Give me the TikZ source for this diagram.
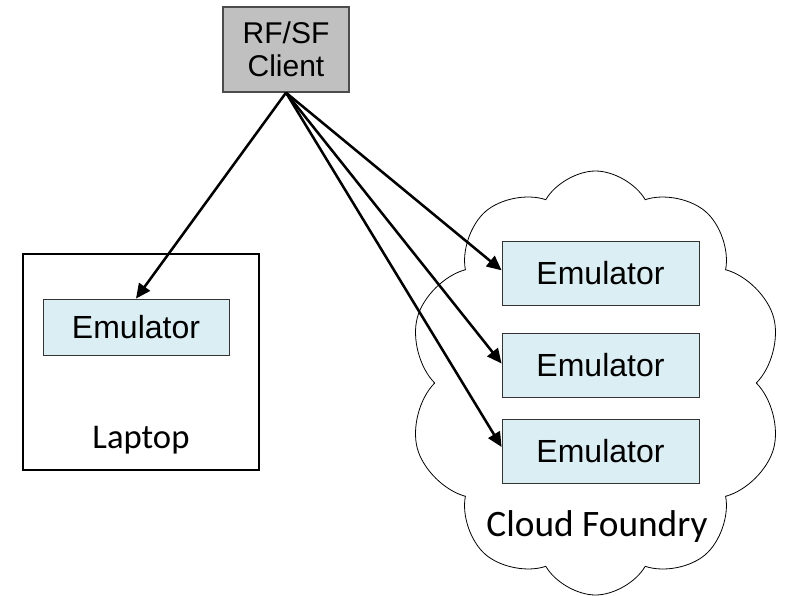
\documentclass[tikz,border=0pt]{standalone}
\usepackage{fontspec}
\setmainfont{Liberation Sans}
\newfontfamily\calibri{Carlito}
\usetikzlibrary{arrows.meta,shapes.symbols}

\definecolor{clientgray}{RGB}{192,192,192}
\definecolor{emublue}{RGB}{219,238,244}

\tikzset{
    client/.style={draw=black!70, line width=1pt, fill=clientgray, inner sep=0pt,
        minimum width=94.5pt, minimum height=63.75pt, align=center,
        font=\fontsize{22.5}{25}\selectfont},
    emubox/.style={draw=black!80, line width=0.6pt, fill=emublue, inner sep=0pt,
        minimum width=147.75pt, minimum height=48pt, font=\fontsize{24}{26}\selectfont},
    link/.style={line width=1.9pt, -{Triangle[length=11pt,width=10pt]}},
}

\begin{document}
\begin{tikzpicture}[x=0.75pt, y=-0.75pt]
    \useasboundingbox (0,0) rectangle (794,596);

    % cloud
    \node[cloud, draw, line width=0.6pt, cloud puffs=10, cloud puff arc=120,
        cloud ignores aspect, minimum width=281pt, minimum height=318pt] (cf) at (595.5,383) {};
    \node[font=\calibri\fontsize{28}{30}\selectfont] (cflabel) at (597,527) {Cloud Foundry};

    % laptop
    \node[draw, line width=1.5pt, minimum width=177pt, minimum height=162pt, inner sep=0pt] (laptop) at (141,362) {};
    \node[font=\calibri\fontsize{26}{28}\selectfont] (laptoplabel) at (141,440) {Laptop};
    \node[emubox, minimum width=139.5pt, minimum height=42pt] (emu0) at (136,327) {Emulator};

    % emulators in the cloud
    \node[emubox] (emu1) at (600.5,273) {Emulator};
    \node[emubox] (emu2) at (600.5,365.5) {Emulator};
    \node[emubox] (emu3) at (600.5,451) {Emulator};

    % client
    \node[client] (client) at (286,49.5) {RF/SF\\Client};

    \draw[link] (client.south) -- (emu0.north);
    \draw[link] (client.south) -- ([yshift=2pt]emu1.west);
    \draw[link] (client.south) -- ([yshift=1.5pt]emu2.west);
    \draw[link] (client.south) -- ([yshift=3pt]emu3.west);

\end{tikzpicture}
\end{document}
